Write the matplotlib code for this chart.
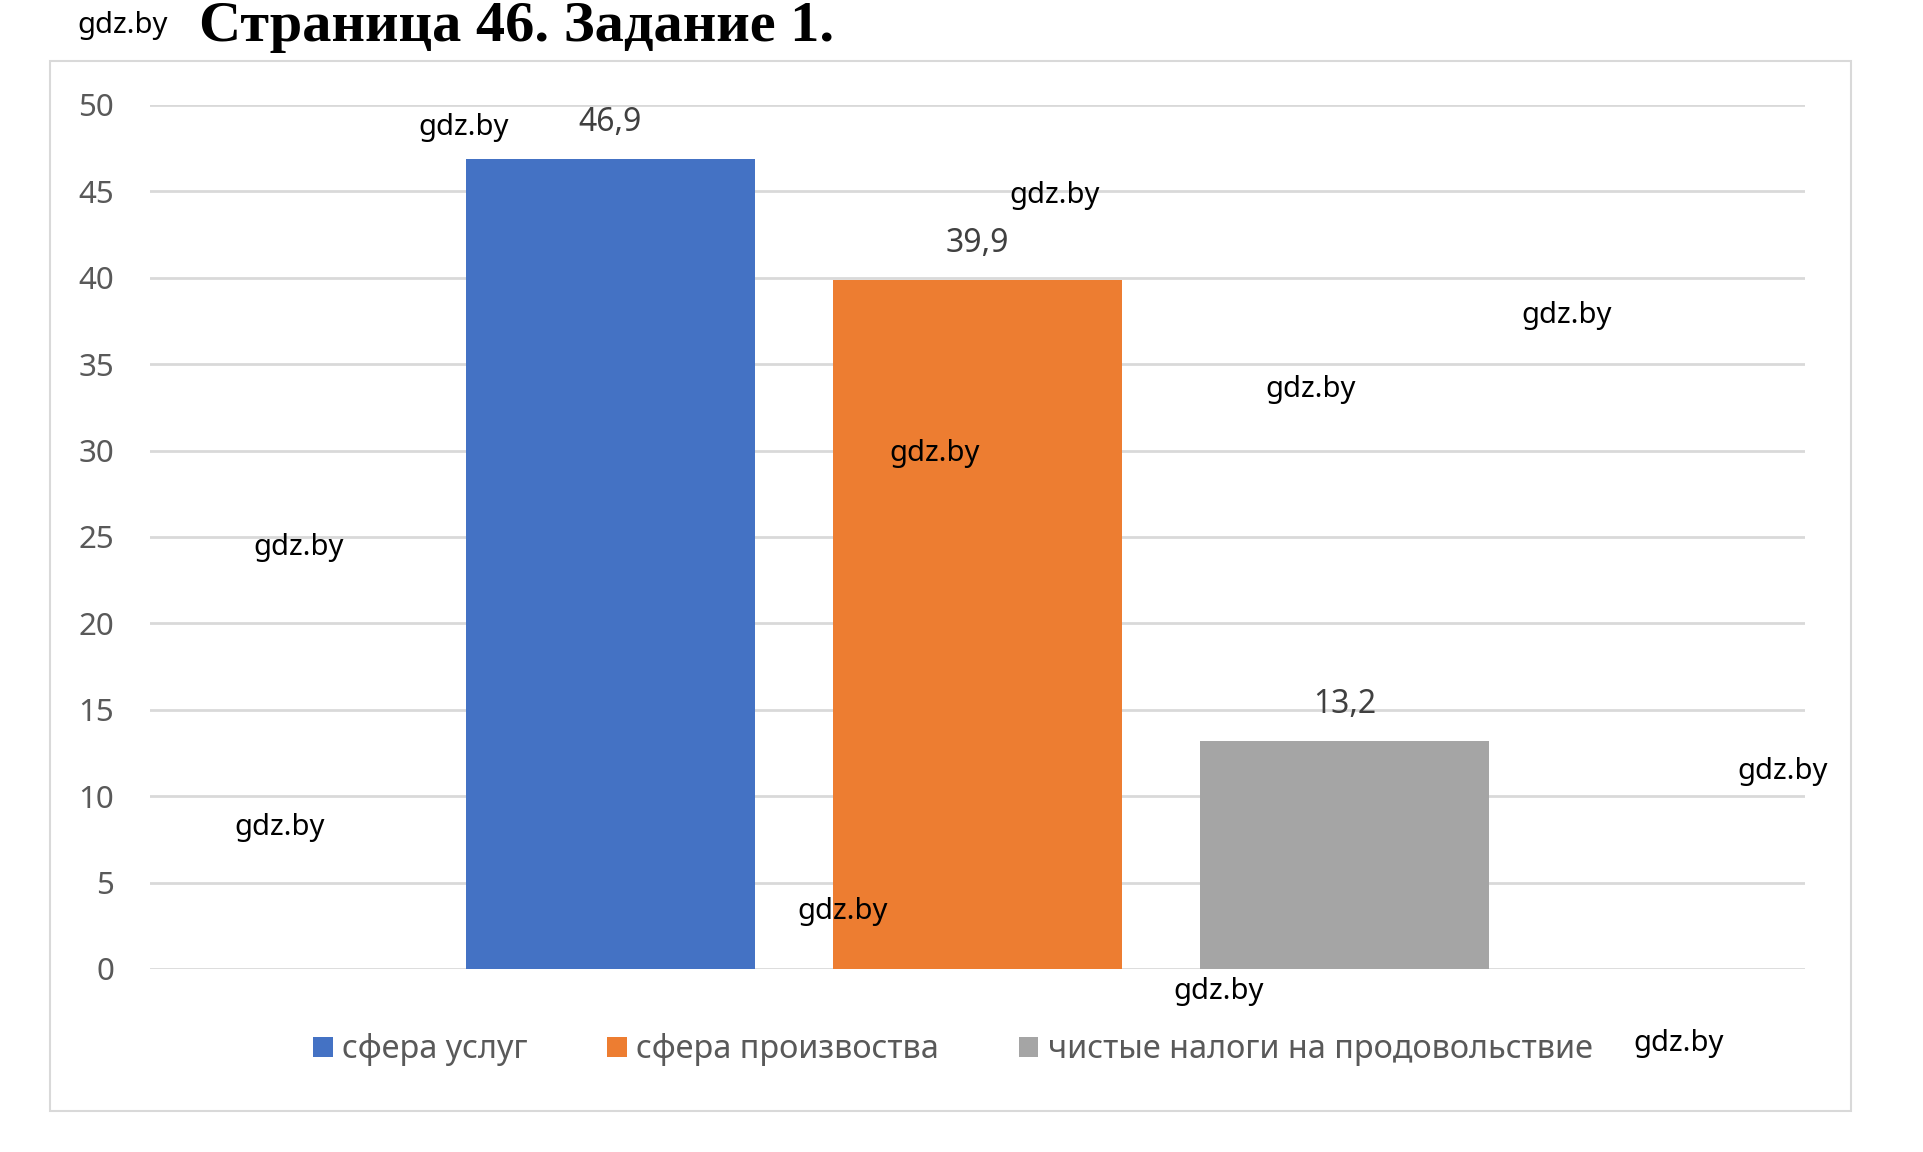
import matplotlib
matplotlib.use("Agg")
import matplotlib.pyplot as plt
from matplotlib.patches import Rectangle, Patch

# ---- data ----
series_names = ["сфера услуг", "сфера произвоства", "чистые налоги на продовольствие"]
values = [46.9, 39.9, 13.2]
value_labels = ["46,9", "39,9", "13,2"]
y_ticks = [0, 5, 10, 15, 20, 25, 30, 35, 40, 45, 50]
title_text = "Страница 46. Задание 1."
watermark = "gdz.by"

colors = ["#4472C4", "#ED7D31", "#A5A5A5"]

W, H = 1923, 1152
fig = plt.figure(figsize=(W / 100, H / 100), dpi=100)
fig.patch.set_facecolor("white")

# chart frame
fig.patches.append(Rectangle((50 / W, 1 - 1111 / H), (1851 - 50) / W, (1111 - 61) / H,
                             transform=fig.transFigure, fill=False,
                             edgecolor="#d9d9d9", linewidth=1.5))

ax = fig.add_axes([150 / W, 1 - 969 / H, (1805 - 150) / W, (969 - 105) / H])
x = list(range(len(values)))
bars = ax.bar(x, values, width=0.787, color=colors, zorder=3)
ax.set_xlim(-1.254, 3.254)
ax.set_ylim(0, 50)
ax.set_yticks(y_ticks)
ax.set_yticklabels([str(t) for t in y_ticks], fontsize=22.5, color="#595959",
                   fontfamily="Noto Sans")
ax.set_xticks([])
ax.tick_params(axis="y", length=0, pad=26)
for s in ax.spines.values():
    s.set_visible(False)
ax.grid(axis="y", color="#d9d9d9", linewidth=2, zorder=0)
ax.set_axisbelow(True)

ax.bar_label(bars, labels=value_labels, padding=14, fontsize=23, color="#404040",
             fontfamily="Noto Sans")

handles = [Patch(facecolor=c, edgecolor="none") for c in colors]
fig.legend(handles, series_names, loc="center", bbox_to_anchor=(953 / W, 1 - 1050 / H),
           ncol=3, frameon=False, prop={"family": "Noto Sans", "size": 23.3},
           labelcolor="#595959", handlelength=0.6, handleheight=0.6,
           handletextpad=0.3, columnspacing=2.45)

fig.text(199 / W, 1 - 27 / H, title_text, fontsize=42, fontweight="bold",
         fontfamily="Liberation Serif", va="center", ha="left", color="black")

wm_pos = [(123, 25), (464, 128), (1055, 196), (1567, 316), (1311, 389), (935, 453),
          (299, 548), (1783, 771), (280, 828), (843, 911), (1219, 991), (1679, 1044)]
for (px, py) in wm_pos:
    fig.text(px / W, 1 - py / H, watermark, fontsize=21, fontfamily="Noto Sans",
             ha="center", va="center", color="black", zorder=10)

fig.savefig("out.png", dpi=100, facecolor="white")
